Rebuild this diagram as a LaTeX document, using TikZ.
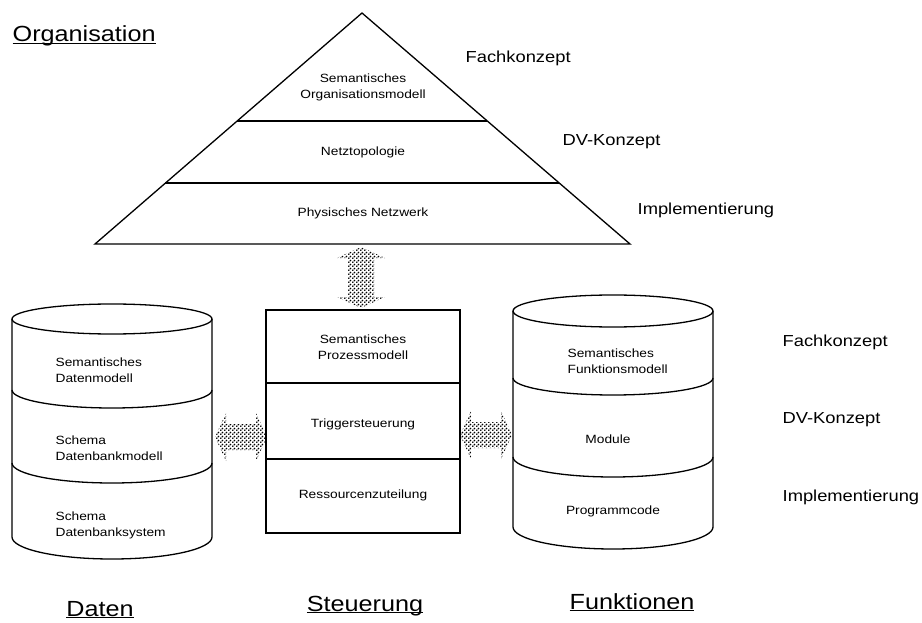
\documentclass[tikz,border=0pt]{standalone}
\usepackage{fontspec}
\setmainfont{Liberation Sans}[FakeStretch=1.15]
\usetikzlibrary{calc,patterns}
\pgfdeclarepatternformonly{raster}{\pgfpointorigin}{\pgfpoint{4bp}{4bp}}{\pgfpoint{4bp}{4bp}}{
	\pgfpathcircle{\pgfpoint{1bp}{1bp}}{1.1bp}
	\pgfpathcircle{\pgfpoint{3bp}{3bp}}{1.1bp}
	\pgfusepath{fill}
}
\newcommand{\pfeilh}[2]{\path[raster] (#1) -- ([shift={(11,-24)}]#1) -- ([shift={(11,-13)}]#1) -- ([shift={(-11,-13)}]#2) -- ([shift={(-11,-24)}]#2) -- (#2)
	-- ([shift={(-11,24)}]#2) -- ([shift={(-11,13)}]#2) -- ([shift={(11,13)}]#1) -- ([shift={(11,24)}]#1) -- cycle;}
\newcommand{\pfeilv}[2]{\path[raster] (#1) -- ([shift={(24,11)}]#1) -- ([shift={(13,11)}]#1) -- ([shift={(13,-11)}]#2) -- ([shift={(24,-11)}]#2) -- (#2)
	-- ([shift={(-24,-11)}]#2) -- ([shift={(-13,-11)}]#2) -- ([shift={(-13,11)}]#1) -- ([shift={(-24,11)}]#1) -- cycle;}
\tikzset{
	schicht/.style={font=\fontsize{12}{16}\selectfont, align=center, inner sep=0pt},
	schichtl/.style={schicht, align=left, anchor=west},
	ebene/.style={font=\fontsize{16}{18}\selectfont, anchor=west, inner sep=0pt},
	sicht/.style={font=\fontsize{22}{24}\selectfont, anchor=base, inner sep=0pt},
	raster/.style={pattern=raster, pattern color=black},
}
\begin{document}
\begin{tikzpicture}[x=1bp, y=-1bp, line width=1.3bp]
	\useasboundingbox (0,0) rectangle (922,623);

	\coordinate (spitze) at (362,13);
	\coordinate (ul) at (95,244);
	\coordinate (ur) at (630,244);
	\draw (spitze) -- (ul) -- (ur) -- cycle;
	\draw ($(spitze)!.4675!(ul)$) -- ($(spitze)!.4675!(ur)$);
	\draw ($(spitze)!.736!(ul)$) -- ($(spitze)!.736!(ur)$);

	\node[schicht] (orgmodell) at (363,87) {Semantisches\\Organisationsmodell};
	\node[schicht] (netztop) at (363,152) {Netztopologie};
	\node[schicht] (netzwerk) at (363,213) {Physisches Netzwerk};

	\node[ebene] (fk1) at (465,58) {Fachkonzept};
	\node[ebene] (dv1) at (562,142) {DV-Konzept};
	\node[ebene] (impl1) at (637,210) {Implementierung};

	\node[sicht, anchor=base west] (organisation) at (12,42) {\underline{\smash{Organisation}}};

	\draw (112,319) ellipse[x radius=100, y radius=15];
	\draw (12,319) -- (12,537) arc[start angle=180, end angle=0, x radius=100, y radius=22] -- (212,319);
	\draw (12,390) arc[start angle=180, end angle=0, x radius=100, y radius=18];
	\draw (12,463) arc[start angle=180, end angle=0, x radius=100, y radius=20];

	\node[schichtl] (datmodell) at (55,370) {Semantisches\\Datenmodell};
	\node[schichtl] (dbmodell) at (55,448) {Schema\\Datenbankmodell};
	\node[schichtl] (dbsystem) at (55,525) {Schema\\Datenbanksystem};

	\node[draw, minimum width=194bp, minimum height=223bp, inner sep=0pt] (steuerung) at (363,421.5) {};
	\draw (266,383) -- (460,383);
	\draw (266,459) -- (460,459);

	\node[schicht] (prozmodell) at (363,347) {Semantisches\\Prozessmodell};
	\node[schicht] (trigger) at (363,424) {Triggersteuerung};
	\node[schicht] (ressourcen) at (363,495) {Ressourcenzuteilung};

	\draw (613,311) ellipse[x radius=100, y radius=16];
	\draw (513,311) -- (513,527) arc[start angle=180, end angle=0, x radius=100, y radius=22] -- (713,311);
	\draw (513,378) arc[start angle=180, end angle=0, x radius=100, y radius=17];
	\draw (513,457) arc[start angle=180, end angle=0, x radius=100, y radius=20];

	\node[schichtl] (fktmodell) at (567,361) {Semantisches\\Funktionsmodell};
	\node[schicht] (module) at (608,439) {Module};
	\node[schicht] (code) at (613,511) {Programmcode};

	\node[ebene] (fk2) at (782,342) {Fachkonzept};
	\node[ebene] (dv2) at (782,420) {DV-Konzept};
	\node[ebene] (impl2) at (782,497) {Implementierung};

	\coordinate (pyrbasis) at (361,247);
	\coordinate (steuero) at (361,308);
	\coordinate (datenrand) at (215,437);
	\coordinate (steuerl) at (267,437);
	\coordinate (steuerr) at (460,435);
	\coordinate (funktrand) at (512,435);
	\pfeilv{pyrbasis}{steuero}
	\pfeilh{datenrand}{steuerl}
	\pfeilh{steuerr}{funktrand}

	\node[sicht] (daten) at (100,616) {\underline{\smash{Daten}}};
	\node[sicht] (steuer) at (365,611) {\underline{\smash{Steuerung}}};
	\node[sicht] (funktionen) at (632,609) {\underline{\smash{Funktionen}}};
\end{tikzpicture}
\end{document}
